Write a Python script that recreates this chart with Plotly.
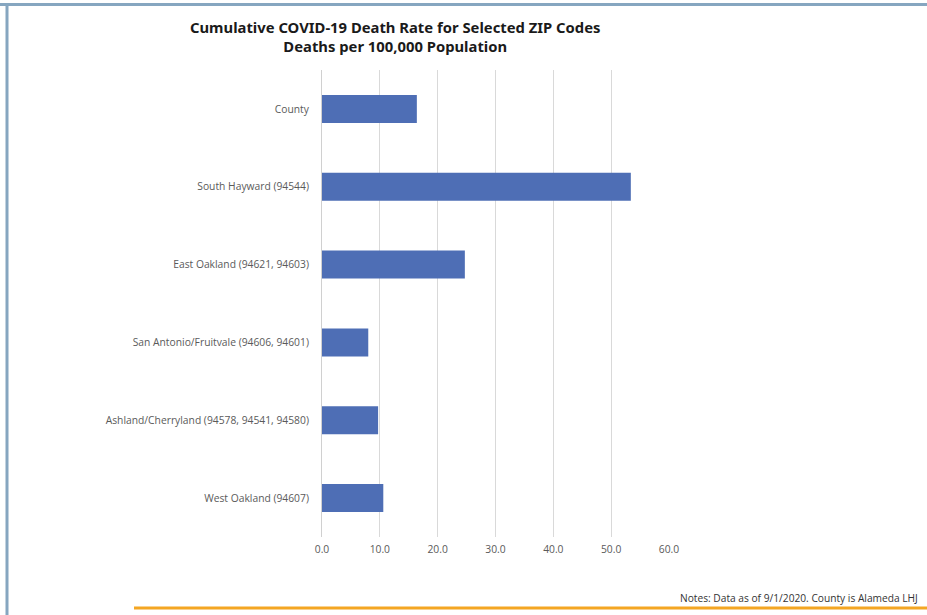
import plotly.graph_objects as go

categories = [
    "County",
    "South Hayward (94544)",
    "East Oakland (94621, 94603)",
    "San Antonio/Fruitvale (94606, 94601)",
    "Ashland/Cherryland (94578, 94541, 94580)",
    "West Oakland (94607)",
]
death_rates = [16.4, 53.4, 24.7, 8.0, 9.7, 10.6]
x_ticks = [0, 10, 20, 30, 40, 50, 60]
title_lines = ["Cumulative COVID-19 Death Rate for Selected ZIP Codes", "Deaths per 100,000 Population"]
note_text = "Notes: Data as of 9/1/2020. County is Alameda LHJ"

W, H = 927, 615
L, R, T, B = 322, 669, 70, 537
pw, ph = R - L, B - T


def px(x):
    return (x - L) / pw


def py(y):
    return (B - y) / ph


fig = go.Figure(
    go.Bar(
        x=death_rates,
        y=categories,
        orientation="h",
        marker=dict(color="#4E6EB5", line=dict(width=0)),
        hoverinfo="x+y",
    )
)

label_font = dict(family="Open Sans, Noto Sans, sans-serif", size=10.3, color="#5a5a5a")

fig.update_layout(
    width=W,
    height=H,
    margin=dict(l=L, r=W - R, t=T, b=H - B),
    paper_bgcolor="white",
    plot_bgcolor="white",
    bargap=0.64,
    showlegend=False,
    xaxis=dict(
        range=[0, 60],
        tickvals=x_ticks,
        tickformat=".1f",
        showgrid=True,
        gridcolor="#d9d9d9",
        gridwidth=1,
        zeroline=False,
        showline=False,
        ticks="",
        tickfont=label_font,
        ticklabelstandoff=5,
    ),
    yaxis=dict(
        categoryorder="array",
        categoryarray=categories,
        autorange="reversed",
        showgrid=False,
        zeroline=False,
        showline=True,
        linecolor="#d0d0d0",
        linewidth=1,
        ticks="",
        tickfont=label_font,
        ticklabelstandoff=10,
    ),
    font=dict(family="Open Sans, Noto Sans, sans-serif"),
)

fig.add_annotation(
    text="<b>" + title_lines[0] + "</b><br><b>" + title_lines[1] + "</b>",
    xref="paper", yref="paper", x=px(395), y=py(37),
    xanchor="center", yanchor="middle", showarrow=False, align="center",
    font=dict(family="Noto Sans, sans-serif", size=14.8, color="#1a1a1a"),
)
fig.add_annotation(
    text=note_text,
    xref="paper", yref="paper", x=px(920), y=py(598),
    xanchor="right", yanchor="middle", showarrow=False,
    font=dict(family="Open Sans, Noto Sans, sans-serif", size=10.2, color="#333333"),
)

# decorative frame lines
fig.add_shape(type="line", xref="paper", yref="paper",
              x0=px(0), x1=px(W), y0=py(4.5), y1=py(4.5),
              line=dict(color="#86a6c0", width=3))
fig.add_shape(type="line", xref="paper", yref="paper",
              x0=px(7), x1=px(7), y0=py(3), y1=py(H),
              line=dict(color="#86a6c0", width=3))
fig.add_shape(type="line", xref="paper", yref="paper",
              x0=px(134), x1=px(W), y0=py(608), y1=py(608),
              line=dict(color="#f4a623", width=3))

fig.write_html("out.html", config={"displayModeBar": False})
